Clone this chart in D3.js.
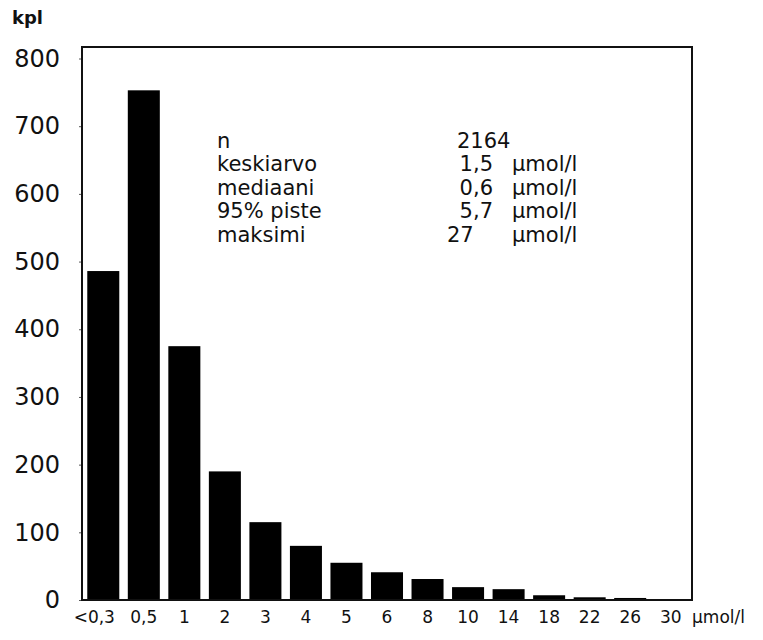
<!DOCTYPE html>
<html>
<head>
<meta charset="utf-8">
<script src="https://cdn.jsdelivr.net/npm/d3@7"></script>
<style>
body { margin: 0; background: #fff; }
svg text { font-family: "DejaVu Sans", Verdana, sans-serif; fill: #111; }
</style>
</head>
<body>
<svg id="chart" width="763" height="640"></svg>
<script>
/* bins (µmol/l) and counts */
var BINS = ["<0,3", "0,5", "1", "2", "3", "4", "5", "6", "8", "10", "14", "18", "22", "26", "30"];
var COUNTS = [486, 753, 375, 190, 115, 80, 55, 41, 31, 19, 16, 7, 4, 3, 0];
var Y_TICKS = [0, 100, 200, 300, 400, 500, 600, 700, 800];

/* summary table */
var STAT_LABELS = ["n", "keskiarvo", "mediaani", "95% piste", "maksimi"];
var STAT_VALUES = ["2164", "1,5", "0,6", "5,7", "27"];
var STAT_UNITS = ["", "µmol/l", "µmol/l", "µmol/l", "µmol/l"];

var svg = d3.select("#chart");
var margin = {top: 47, right: 71, bottom: 40, left: 82};
var width = svg.attr("width") - margin.left - margin.right;
var height = svg.attr("height") - margin.top - margin.bottom;
var g = svg.append("g").attr("transform", "translate(" + margin.left + "," + margin.top + ")");

var x = d3.scaleBand().domain(BINS).range([0, width]).paddingInner(0.21).paddingOuter(0.13);
var y = d3.scaleLinear().domain([0, 817]).range([height, 0]);

/* bars */
g.selectAll(".bar")
    .data(COUNTS)
    .enter().append("rect")
    .attr("class", "bar")
    .attr("x", function (d, i) { return x(BINS[i]); })
    .attr("width", x.bandwidth())
    .attr("y", function (d) { return y(d); })
    .attr("height", function (d) { return height - y(d); })
    .attr("fill", "#000");

/* y axis */
var yAxis = g.append("g")
    .call(d3.axisLeft(y).tickValues(Y_TICKS).tickSize(3).tickPadding(19));
yAxis.select(".domain").remove();
yAxis.selectAll("text").style("font-size", "24px");
yAxis.selectAll("line").attr("stroke", "#555");

/* x axis */
var xAxis = g.append("g")
    .attr("transform", "translate(0," + height + ")")
    .call(d3.axisBottom(x).tickSize(0).tickPadding(11));
xAxis.select(".domain").remove();
xAxis.selectAll("text").style("font-size", "17px");
// first label sits a bit left of its bar in the original
xAxis.selectAll("text").filter(function (d) { return d === "<0,3"; }).attr("dx", -9);

/* frame */
g.append("rect")
    .attr("width", width)
    .attr("height", height)
    .attr("fill", "none")
    .attr("stroke", "#111")
    .attr("stroke-width", 2);

/* axis titles */
svg.append("text")
    .attr("x", 12).attr("y", 24)
    .style("font-size", "18px")
    .style("font-weight", "bold")
    .text("kpl");

svg.append("text")
    .attr("x", 692).attr("y", height + margin.top + 23)
    .style("font-size", "17px")
    .text("µmol/l");

/* summary table */
var stats = svg.append("g").attr("class", "stats").style("font-size", "21px");
STAT_LABELS.forEach(function (label, i) {
    var by = 148 + i * 23.4;
    stats.append("text").attr("x", 217).attr("y", by).text(label);
    var v = stats.append("text").attr("y", by).text(STAT_VALUES[i]);
    if (i === 0) v.attr("x", 457);
    else if (i === 4) v.attr("x", 447);
    else v.attr("x", 493).attr("text-anchor", "end");
    stats.append("text").attr("x", 512).attr("y", by).text(STAT_UNITS[i]);
});
</script>
</body>
</html>
